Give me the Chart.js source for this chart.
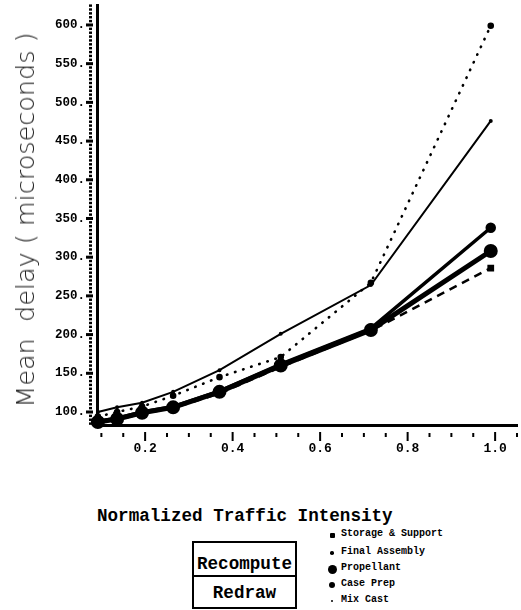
<!DOCTYPE html>
<html>
<head>
<meta charset="utf-8">
<script src="https://cdn.jsdelivr.net/npm/chart.js@4.4.1/dist/chart.umd.min.js"></script>
<style>
  html, body { margin:0; padding:0; background:#fff; }
  body { width:521px; height:610px; position:relative; overflow:hidden; }
  #wrap { position:absolute; left:0; top:0; width:521px; height:460px; }
  #ytitle { position:absolute; left:25px; top:220px; transform:translate(-50%,-50%) rotate(-90deg);
    font-family:"DejaVu Sans", sans-serif; font-weight:200; font-size:25.5px; color:#222; white-space:pre; }
  #xtitle { position:absolute; left:97px; top:506px; font-family:"Liberation Mono", monospace; font-weight:bold;
    font-size:17.6px; color:#000; white-space:pre; }
  .btn { position:absolute; left:192px; width:101px; border:2px solid #000; text-align:center;
    font-family:"Liberation Mono", monospace; font-weight:bold; font-size:17.6px; color:#000; }
  #b1 { top:541px; height:32px; line-height:42px; }
  #b2 { top:575px; height:30px; line-height:32px; }
  .leg { position:absolute; left:341px; font-family:"Liberation Mono", monospace; font-weight:bold; font-size:10px; color:#000; white-space:pre; }
  .mk { position:absolute; background:#000; border-radius:50%; }
</style>
</head>
<body>
<div id="wrap"><canvas id="c" width="521" height="460"></canvas></div>
<div id="ytitle">Mean  delay ( microseconds )</div>
<div id="xtitle">Normalized Traffic Intensity</div>
<div class="btn" id="b1">Recompute</div>
<div class="btn" id="b2">Redraw</div>
<div id="legend"></div>
<script>
// ---- data ----
const intensity = [0.092, 0.136, 0.193, 0.264, 0.37, 0.51, 0.716, 0.99];
const storageSupport = [86, 90, 98, 105, 124, 158, 205, 286];
const finalAssembly = [100, 106, 112, 126, 154, 201, 264, 476];
const propellant = [87, 91, 99, 106, 126, 160, 206, 308];
const casePrep = [88, 92, 100, 107, 127, 162, 208, 338];
const mixCast = [94, 100, 107, 121, 145, 171, 267, 599];
const yTicks = [100, 150, 200, 250, 300, 350, 400, 450, 500, 550, 600];
const xTicks = [0.2, 0.4, 0.6, 0.8, 1.0];
const legendNames = ["Storage & Support", "Final Assembly", "Propellant", "Case Prep", "Mix Cast"];

const pts = arr => intensity.map((x, i) => ({x, y: arr[i]}));

const tickPlugin = {
  id: 'minorTicks',
  afterDraw(chart) {
    const ctx = chart.ctx, xs = chart.scales.x, ys = chart.scales.y;
    ctx.save();
    ctx.fillStyle = '#000';
    const ax = xs.left, ay = ys.bottom;
    for (let v = 85; v <= 625; v += 5) {
      const p = ys.getPixelForValue(v);
      if (v % 50 === 0) ctx.fillRect(ax - 11, p - 1.5, 7, 3);
      else ctx.fillRect(ax - 8, p - 1.2, 3, 2.4);
    }
    for (let k = 2; k <= 21; k++) {
      const v = k * 0.05;
      const p = xs.getPixelForValue(v);
      if (k % 4 === 0) ctx.fillRect(p - 1, ay + 7, 2, 9);
      else ctx.fillRect(p - 1, ay + 8, 2, 4);
    }
    ctx.restore();
  }
};

const chart = new Chart(document.getElementById('c'), {
  type: 'line',
  data: {
    datasets: [
      { label: legendNames[0], data: pts(storageSupport), borderColor:'#000', backgroundColor:'#000',
        borderWidth:2.5, borderDash:[8,6], pointStyle:'rect', pointRadius:3, clip:false },
      { label: legendNames[1], data: pts(finalAssembly), borderColor:'#000', backgroundColor:'#000',
        borderWidth:2, pointRadius:1, clip:false },
      { label: legendNames[2], data: pts(propellant), borderColor:'#000', backgroundColor:'#000',
        borderWidth:5, pointRadius:4.5, clip:false },
      { label: legendNames[3], data: pts(casePrep), borderColor:'#000', backgroundColor:'#000',
        borderWidth:3.5, pointRadius:3.5, clip:false },
      { label: legendNames[4], data: pts(mixCast), borderColor:'#000', backgroundColor:'#000',
        borderWidth:2.6, borderDash:[0.5,8], borderCapStyle:'round', pointRadius:2, clip:false }
    ]
  },
  options: {
    responsive:false, animation:false,
    layout:{ autoPadding:false, padding:{ top:5, right:4, left:0, bottom:0 } },
    plugins:{ legend:{display:false}, tooltip:{enabled:false} },
    elements:{ line:{ tension:0 } },
    scales:{
      x:{ type:'linear', min:0.09, max:1.05,
        afterBuildTicks: s => { s.ticks = xTicks.map(v => ({value:v})); },
        afterFit: s => { s.height = 35; s.paddingLeft = 0; s.paddingRight = 0; },
        grid:{ display:true, drawOnChartArea:false, drawTicks:false },
        border:{ display:true, color:'#000', width:3 },
        ticks:{ padding:16, color:'#000', maxRotation:0, autoSkip:false,
          font:{ family:'Liberation Mono', weight:'bold', size:13 },
          callback: v => Number(v).toFixed(1) }
      },
      y:{ type:'linear', min:83.2, max:625.8,
        afterBuildTicks: s => { s.ticks = yTicks.map(v => ({value:v})); },
        afterFit: s => { s.width = 97; s.paddingTop = 0; s.paddingBottom = 0; },
        grid:{ display:true, drawOnChartArea:false, drawTicks:false },
        border:{ display:true, color:'#000', width:3 },
        ticks:{ padding:12, color:'#000', autoSkip:false,
          font:{ family:'Liberation Mono', weight:'bold', size:12.5 },
          callback: v => v + '.' }
      }
    }
  },
  plugins:[tickPlugin]
});

// legend (HTML)
const legRows = [535, 553, 569, 585, 601];
const legSizes = [5, 3.5, 9, 6, 2.5];
const lg = document.getElementById('legend');
legendNames.forEach((n, i) => {
  const m = document.createElement('div');
  m.className = 'mk';
  const s = legSizes[i];
  m.style.width = s + 'px'; m.style.height = s + 'px';
  m.style.left = (332 - s/2) + 'px'; m.style.top = (legRows[i] - s/2) + 'px';
  if (i === 0) m.style.borderRadius = '1px';
  lg.appendChild(m);
  const t = document.createElement('div');
  t.className = 'leg'; t.textContent = n;
  t.style.top = (legRows[i] - 7) + 'px';
  lg.appendChild(t);
});
</script>
</body>
</html>
